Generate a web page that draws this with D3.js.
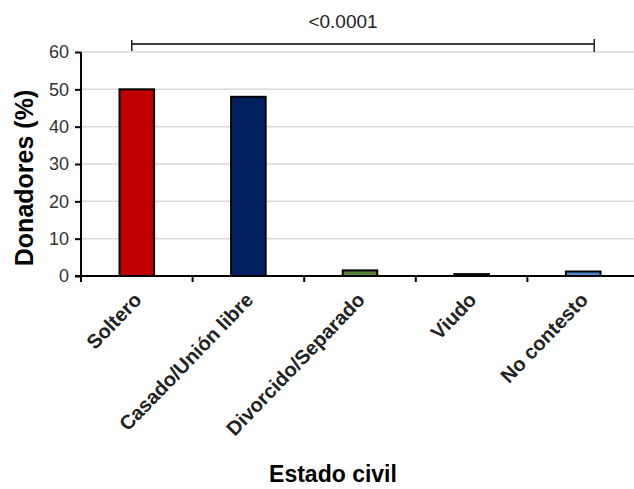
<!DOCTYPE html>
<html><head><meta charset="utf-8">
<script src="https://cdn.jsdelivr.net/npm/d3@7"></script>
<style>body{margin:0;background:#fff}svg{display:block}</style>
</head><body>
<svg id="chart" width="634" height="489"></svg>
<script>
const categories = ["Soltero","Casado/Unión libre","Divorcido/Separado","Viudo","No contesto"];
const values = [50, 48, 1.5, 0.5, 1.2];
const colors = ["#c00000","#002060","#548235","#000000","#4a89c8"];
const yTicks = [0,10,20,30,40,50,60];
const pLabel = "<0.0001";
const yTitle = "Donadores (%)";
const xTitle = "Estado civil";

const svg = d3.select("#chart");
const m = {left:81, top:52, right:639, bottom:276};
const x = d3.scaleBand().domain(categories).range([m.left, m.right]);
const y = d3.scaleLinear().domain([0,60]).range([m.bottom, m.top]);
const font = "'Liberation Sans', Arial, sans-serif";

// gridlines
svg.append("g").selectAll("line").data(yTicks.filter(d=>d>0)).join("line")
  .attr("x1", m.left).attr("x2", 634).attr("y1", d=>y(d)).attr("y2", d=>y(d))
  .attr("stroke","#d9d9d9").attr("stroke-width",1.5);

// bars
const bw = x.bandwidth()*0.31;
svg.append("g").selectAll("rect").data(categories).join("rect")
  .attr("x", d=>x(d)+x.bandwidth()/2-bw/2)
  .attr("width", bw)
  .attr("y", (d,i)=>y(values[i]))
  .attr("height", (d,i)=>y(0)-y(values[i]))
  .attr("fill", (d,i)=>colors[i])
  .attr("stroke","#000").attr("stroke-width",2);

// y axis
const yAxis = svg.append("g").attr("transform",`translate(${m.left},0)`)
  .call(d3.axisLeft(y).tickValues(yTicks).tickSize(6).tickPadding(6));
yAxis.select(".domain").attr("stroke","#000").attr("stroke-width",2).attr("d",`M0,${y(0)}V${y(60)}`);
yAxis.selectAll(".tick line").attr("stroke","#000").attr("stroke-width",2);
yAxis.selectAll(".tick text").attr("font-family",font).attr("font-size",18).attr("fill","#333");

// x axis
const xAxisG = svg.append("g").attr("transform",`translate(0,${y(0)})`);
xAxisG.append("line").attr("x1",m.left-6).attr("x2",634).attr("y1",0).attr("y2",0)
  .attr("stroke","#000").attr("stroke-width",2);
xAxisG.selectAll("line.tk").data(categories).join("line").attr("class","tk")
  .attr("x1",d=>x(d)).attr("x2",d=>x(d)).attr("y1",0).attr("y2",6)
  .attr("stroke","#000").attr("stroke-width",2);
xAxisG.selectAll("text").data(categories).join("text")
  .attr("transform", d=>`translate(${x(d)+x.bandwidth()/2+6},${25}) rotate(-46)`)
  .attr("text-anchor","end")
  .attr("font-family",font).attr("font-weight","bold").attr("font-size",20).attr("fill","#222")
  .text(d=>d);

// titles
svg.append("text").attr("transform",`translate(33,${178}) rotate(-90)`)
  .attr("text-anchor","middle").attr("font-family",font).attr("font-weight","bold")
  .attr("font-size",25).attr("fill","#000").text(yTitle);
svg.append("text").attr("x",333).attr("y",482)
  .attr("text-anchor","middle").attr("font-family",font).attr("font-weight","bold")
  .attr("font-size",23).attr("fill","#000").text(xTitle);

// significance bracket
const bx1 = x(categories[0]) + x.bandwidth()/2 - 5;
const bx2 = x(categories[4]) + x.bandwidth()/2 + 11;
const by = 44;
const br = svg.append("g").attr("stroke","#000").attr("stroke-width",1.3);
br.append("line").attr("x1",bx1).attr("x2",bx2).attr("y1",by).attr("y2",by);
br.append("line").attr("x1",bx1).attr("x2",bx1).attr("y1",by-4).attr("y2",by+7);
br.append("line").attr("x1",bx2).attr("x2",bx2).attr("y1",by-5).attr("y2",by+8);
svg.append("text").attr("x", x(categories[2]) + x.bandwidth()/2 - 17).attr("y",28)
  .attr("text-anchor","middle").attr("font-family",font).attr("font-size",19).attr("fill","#222")
  .text(pLabel);
</script>
</body></html>
